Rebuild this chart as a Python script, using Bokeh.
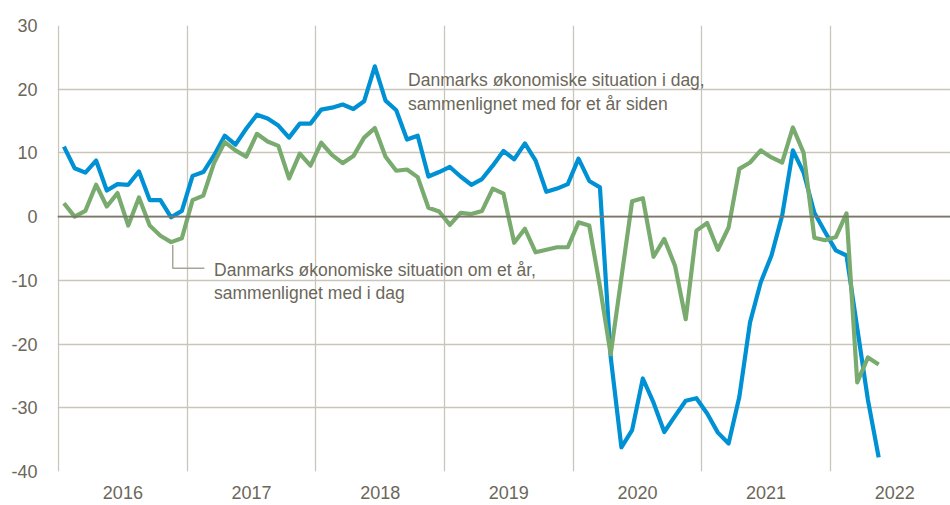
from bokeh.plotting import figure
from bokeh.models import Range1d, FixedTicker, Span, Label
from bokeh.embed import file_html
from bokeh.resources import INLINE

# ---- data (monthly, Jan 2016 - May 2022) ----
years = ["2016", "2017", "2018", "2019", "2020", "2021", "2022"]

idag = [  # Danmarks økonomiske situation i dag, sammenlignet med for et år siden
    11.0, 7.6, 6.9, 8.8, 4.1, 5.1, 5.0, 7.1, 2.6, 2.6, -0.1, 0.9,
    6.4, 7.0, 9.6, 12.7, 11.3, 13.8, 16.0, 15.4, 14.3, 12.4, 14.6, 14.6,
    16.8, 17.1, 17.6, 16.9, 18.1, 23.6, 18.2, 16.7, 12.1, 12.7, 6.3, 7.0,
    7.8, 6.3, 5.0, 5.9, 8.0, 10.3, 9.0, 11.5, 8.8, 3.9, 4.4, 5.1,
    9.1, 5.6, 4.6, -22.0, -36.2, -33.5, -25.4, -29.2, -33.8, -31.3, -28.9, -28.5,
    -30.9, -33.9, -35.6, -28.3, -16.6, -10.3, -6.1, 0.2, 10.4, 6.9, 0.6, -2.4,
    -5.3, -6.1, -17.5, -28.8, -37.8,
]

ometaar = [  # Danmarks økonomiske situation om et år, sammenlignet med i dag
    2.1, 0.0, 0.9, 5.0, 1.6, 3.7, -1.4, 3.0, -1.4, -3.0, -4.0, -3.4,
    2.6, 3.3, 8.4, 11.7, 10.4, 9.4, 13.0, 11.8, 11.1, 6.0, 9.9, 8.0,
    11.6, 9.7, 8.4, 9.5, 12.4, 13.9, 9.4, 7.2, 7.4, 6.2, 1.4, 0.8,
    -1.3, 0.6, 0.4, 0.9, 4.4, 3.6, -4.1, -1.9, -5.6, -5.2, -4.8, -4.8,
    -0.9, -1.4, -11.0, -21.6, -9.6, 2.4, 2.9, -6.3, -3.5, -7.7, -16.1, -2.2,
    -1.0, -5.2, -1.7, 7.5, 8.5, 10.4, 9.3, 8.5, 14.0, 10.0, -3.3, -3.7,
    -3.2, 0.5, -26.0, -22.1, -23.2,
]

y_ticks = [-40, -30, -20, -10, 0, 10, 20, 30]
y_tick_labels = ["-40", "-30", "-20", "-10", "0", "10", "20", "30"]

label_idag = ["Danmarks økonomiske situation i dag,",
              "sammenlignet med for et år siden"]
label_ometaar = ["Danmarks økonomiske situation om et år,",
                 "sammenlignet med i dag"]

# ---- styling ----
FONT = "'Liberation Sans Narrow', 'Arial Narrow', 'Liberation Sans', sans-serif"
TXT = "#6b675a"
GRID = "#c9c6b9"
BLUE = "#0091d4"
GREEN = "#79ab6f"

months = list(range(len(idag)))

p = figure(width=950, height=505, output_backend="svg", toolbar_location=None,
           x_range=Range1d(-0.6, 82.7), y_range=Range1d(-40, 30),
           min_border_left=57, min_border_right=0, min_border_top=25,
           min_border_bottom=34)
p.outline_line_color = None
p.background_fill_color = "white"
p.border_fill_color = "white"

# grids
year_centers = [5.5 + 12 * i for i in range(len(years))]
year_bounds = [-0.5 + 12 * i for i in range(len(years) + 1)]
p.xgrid.ticker = FixedTicker(ticks=year_bounds)
p.xgrid.grid_line_color = GRID
p.xgrid.grid_line_width = 1.3
p.ygrid.ticker = FixedTicker(ticks=y_ticks)
p.ygrid.grid_line_color = GRID
p.ygrid.grid_line_width = 1.3

# axes
p.xaxis.ticker = FixedTicker(ticks=year_centers)
p.xaxis.major_label_overrides = {c: y for c, y in zip(year_centers, years)}
p.yaxis.ticker = FixedTicker(ticks=y_ticks)
p.yaxis.major_label_overrides = {t: s for t, s in zip(y_ticks, y_tick_labels)}
for ax in (p.xaxis[0], p.yaxis[0]):
    ax.axis_line_color = None
    ax.major_tick_line_color = None
    ax.minor_tick_line_color = None
    ax.major_tick_out = 0
    ax.major_tick_in = 0
    ax.minor_tick_out = 0
    ax.minor_tick_in = 0
    ax.major_label_text_font = FONT
    ax.major_label_text_font_size = "18px"
    ax.major_label_text_color = TXT
p.xaxis.major_label_standoff = 14
p.yaxis.major_label_standoff = 20

# zero line
p.add_layout(Span(location=0, dimension="width", line_color="#7a7669", line_width=1.8))

# series (green drawn on top of blue, as in the reference)
p.line(months, idag, line_color=BLUE, line_width=4.2, line_join="round")
p.line(months, ometaar, line_color=GREEN, line_width=4.2, line_join="round")

# annotations
for i, t in enumerate(label_idag):
    p.add_layout(Label(x=32.1, y=21.4 - 3.7 * i, text=t, text_font=FONT,
                       text_font_size="17.5px", text_color=TXT,
                       text_baseline="middle", text_align="left"))
for i, t in enumerate(label_ometaar):
    p.add_layout(Label(x=14.0, y=-8.4 - 3.65 * i, text=t, text_font=FONT,
                       text_font_size="17.5px", text_color=TXT,
                       text_baseline="middle", text_align="left"))

# leader line for lower annotation
p.line([10.15, 10.15, 13.1], [-4.45, -8.1, -8.1], line_color="#a9a697", line_width=1.5)

open("out.html", "w").write(file_html(p, INLINE))
